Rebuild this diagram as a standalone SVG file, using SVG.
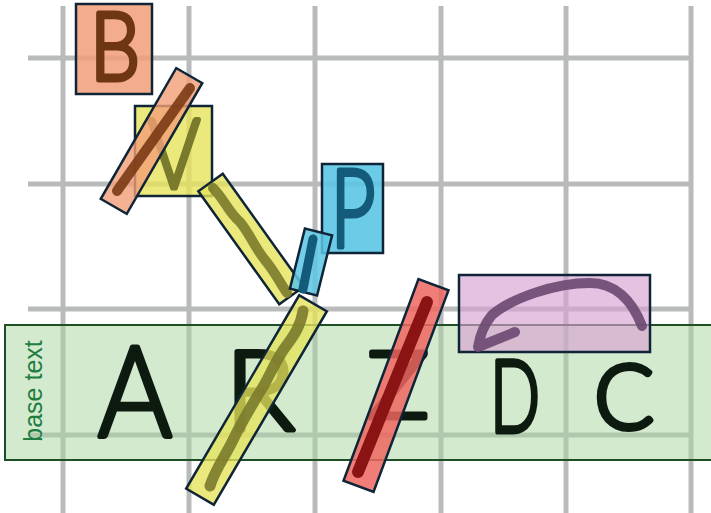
<svg xmlns="http://www.w3.org/2000/svg" width="711" height="513" viewBox="0 0 711 513">
<style>
.grid line{stroke:#b9bbbb;stroke-width:5}
.box{stroke:#0f2537;stroke-width:2.5}
.hw{font-family:Lato,"Liberation Sans",sans-serif;font-weight:300;text-anchor:middle;stroke-width:5;stroke-linejoin:round;stroke-linecap:round}
.mark{fill:none;stroke-linecap:round;stroke-linejoin:round}
</style>
<rect width="711" height="513" fill="#ffffff"/>
<g class="grid" id="grid">
<line x1="63" y1="6" x2="63" y2="513"/>
<line x1="189" y1="6" x2="189" y2="513"/>
<line x1="315" y1="6" x2="315" y2="513"/>
<line x1="441" y1="6" x2="441" y2="513"/>
<line x1="566" y1="6" x2="566" y2="513"/>
<line x1="691" y1="6" x2="691" y2="513"/>
<line x1="28" y1="58" x2="693" y2="58"/>
<line x1="28" y1="184" x2="693" y2="184"/>
<line x1="28" y1="309" x2="693" y2="309"/>
<line x1="28" y1="435" x2="693" y2="435"/>
</g>
<g id="base">
<rect x="5" y="325" width="720" height="135" fill="#a8d59f" fill-opacity="0.5" stroke="#1f4f24" stroke-width="2"/>
<text transform="translate(42 391) rotate(-90)" text-anchor="middle" font-family="Liberation Sans, sans-serif" font-size="25" fill="#1e7d3f">base text</text>
<g fill="#0c1a10" stroke="#0c1a10">
<text class="hw" x="135" y="437" font-size="126" textLength="74" lengthAdjust="spacingAndGlyphs">A</text>
<text class="hw" x="260" y="430" font-size="110" textLength="70" lengthAdjust="spacingAndGlyphs">R</text>
<text class="hw" x="398" y="418" font-size="92" textLength="62" lengthAdjust="spacingAndGlyphs">Z</text>
<text class="hw" x="515" y="432" font-size="100" textLength="50" lengthAdjust="spacingAndGlyphs">D</text>
<text class="hw" x="624" y="429" font-size="90" textLength="60" lengthAdjust="spacingAndGlyphs">C</text>
</g>
</g>
<g id="insert-b">
<rect class="box" x="76" y="4" width="76" height="90" fill="#f29f78" fill-opacity="0.85"/>
<text class="hw" x="115" y="80" font-size="94" textLength="50" lengthAdjust="spacingAndGlyphs" fill="#6e3712" stroke="#6e3712">B</text>
</g>
<g id="insert-v">
<rect class="box" x="135" y="106" width="77" height="90" fill="#e6e35a" fill-opacity="0.8"/>
<text class="hw" x="174" y="188" font-size="96" textLength="52" lengthAdjust="spacingAndGlyphs" fill="#7a7a2c" stroke="#7a7a2c">V</text>
</g>
<g id="strike-b">
<rect class="box" transform="translate(151.5 141) rotate(30)" x="-15" y="-75.5" width="30" height="151" fill="#f29f78" fill-opacity="0.8"/>
<line class="mark" x1="190" y1="88" x2="117" y2="191" stroke="#7a3a14" stroke-width="10" stroke-opacity="0.9"/>
</g>
<g id="link-v">
<rect class="box" transform="translate(251 239) rotate(-35.6)" x="-15" y="-69.5" width="30" height="139" fill="#e6e35a" fill-opacity="0.8"/>
<path class="mark" d="M213,188 C225,200 228,212 240,222 C250,234 255,248 265,260 C275,272 280,283 287,293" stroke="#7a7a2c" stroke-width="10" stroke-opacity="0.9"/>
</g>
<g id="insert-p">
<rect class="box" x="322" y="164" width="61" height="89" fill="#5cc6e4" fill-opacity="0.9"/>
<text class="hw" x="353" y="247" font-size="108" textLength="45" lengthAdjust="spacingAndGlyphs" fill="#145b7a" stroke="#145b7a">P</text>
</g>
<g id="caret-p">
<rect class="box" transform="translate(311 262) rotate(14)" x="-14" y="-31" width="28" height="62" fill="#5cc6e4" fill-opacity="0.85"/>
<line class="mark" x1="313" y1="239" x2="303" y2="289" stroke="#145b7a" stroke-width="9"/>
</g>
<g id="strike-r">
<rect class="box" transform="translate(256.5 400) rotate(30.3)" x="-16" y="-112" width="32" height="224" fill="#e6e35a" fill-opacity="0.78"/>
<path class="mark" d="M303,311 C300,330 290,340 282,352 C272,368 268,380 258,395 C248,412 240,425 232,442 C224,458 215,470 210,486" stroke="#7a7a2c" stroke-width="11" stroke-opacity="0.9"/>
</g>
<g id="strike-z">
<rect class="box" transform="translate(396 385.5) rotate(20.4)" x="-16" y="-107.5" width="32" height="215" fill="#ee6660" fill-opacity="0.85"/>
<line class="mark" x1="427" y1="302" x2="358" y2="472" stroke="#8a1414" stroke-width="12"/>
</g>
<g id="swap-dc">
<rect class="box" x="459" y="275" width="191" height="77" fill="#d7a2d2" fill-opacity="0.65"/>
<path class="mark" d="M642,326 C632,300 615,283 590,283 C555,283 512,298 492,315 Q481,328 478,347 L515,332" stroke="#6a4870" stroke-width="10" stroke-opacity="0.9"/>
</g>
<g id="connectors"></g>
</svg>
